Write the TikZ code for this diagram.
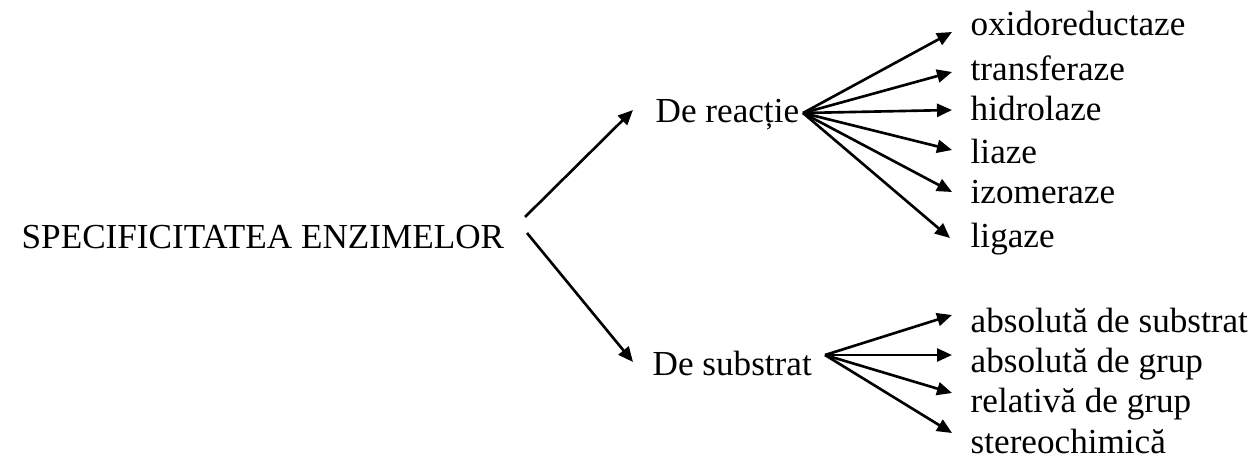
\documentclass[tikz,border=0pt]{standalone}
\usepackage{fontspec}
\setmainfont{Liberation Serif}
\usetikzlibrary{arrows.meta}
\tikzset{
  lbl/.style={anchor=base west, inner sep=0pt, font=\fontsize{10}{12}\selectfont},
  arr/.style={line width=0.75pt, -{Triangle[length=1.5mm,width=1.3mm]}},
}
\begin{document}
\begin{tikzpicture}
\useasboundingbox (0,0) rectangle (12.53,-4.59);
% main nodes
\node[lbl] (spec) at (0.21,-2.48) {SPECIFICITATEA ENZIMELOR};
\node[lbl] (reac) at (6.55,-1.22) {De reacție};
\node[lbl] (subs) at (6.52,-3.75) {De substrat};
% main connectors
\coordinate (su) at (5.25,-2.17);
\coordinate (sd) at (5.27,-2.33);
\coordinate (ru) at (6.33,-1.10);
\coordinate (rd) at (6.33,-3.62);
\draw[arr] (su) -- (ru);
\draw[arr] (sd) -- (rd);
% reactie branch
\coordinate (rf) at (8.03,-1.13);
\node[lbl] (r1) at (9.70,-0.35) {oxidoreductaze};
\node[lbl] (r2) at (9.70,-0.80) {transferaze};
\node[lbl] (r3) at (9.70,-1.20) {hidrolaze};
\node[lbl] (r4) at (9.70,-1.63) {liaze};
\node[lbl] (r5) at (9.70,-2.03) {izomeraze};
\node[lbl] (r6) at (9.70,-2.47) {ligaze};
\coordinate (rt1) at (9.52,-0.32);
\coordinate (rt2) at (9.52,-0.72);
\coordinate (rt3) at (9.52,-1.10);
\coordinate (rt4) at (9.52,-1.50);
\coordinate (rt5) at (9.52,-1.92);
\coordinate (rt6) at (9.50,-2.38);
\foreach \i in {1,...,6} \draw[arr] (rf) -- (rt\i);
% substrat branch
\coordinate (sf) at (8.25,-3.55);
\node[lbl] (s1) at (9.70,-3.32) {absolută de substrat};
\node[lbl] (s2) at (9.70,-3.72) {absolută de grup};
\node[lbl] (s3) at (9.70,-4.12) {relativă de grup};
\node[lbl] (s4) at (9.70,-4.53) {stereochimică};
\coordinate (st1) at (9.52,-3.15);
\coordinate (st2) at (9.52,-3.55);
\coordinate (st3) at (9.52,-3.93);
\coordinate (st4) at (9.52,-4.33);
\foreach \i in {1,...,4} \draw[arr] (sf) -- (st\i);
\end{tikzpicture}
\end{document}
